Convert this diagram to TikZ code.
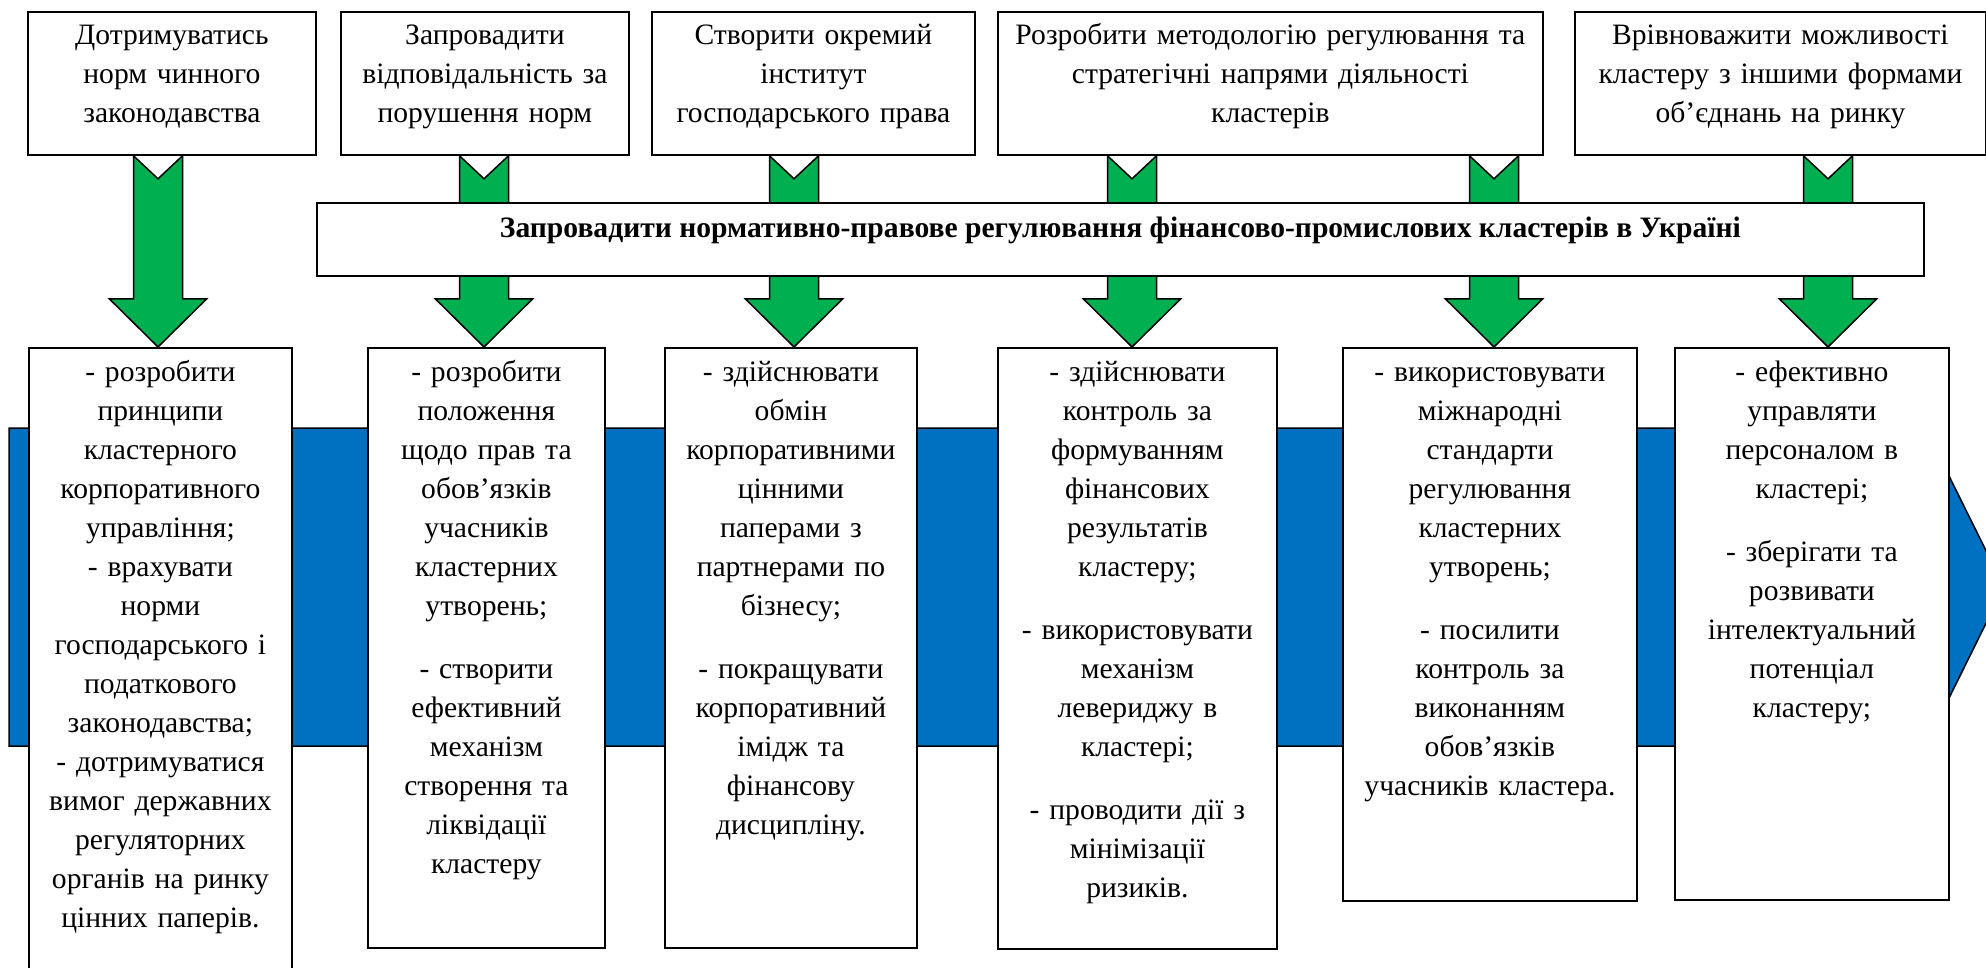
\documentclass[tikz,border=0pt]{standalone}
\usepackage{fontspec}
\setmainfont{Liberation Serif}
\usepackage{tikz}
\definecolor{arrowgreen}{HTML}{00B050}
\definecolor{bandblue}{HTML}{0070C0}

\begin{document}
\begin{tikzpicture}
  [x=1pt, y=-1pt,
   box/.style={draw, fill=white, line width=1.8pt, inner sep=0pt, anchor=north west},
   txt/.style={anchor=base, align=center, inner sep=0pt, font=\fontsize{29.6}{39}\selectfont},
   grarrow/.style={fill=arrowgreen, draw=black, line width=1.5pt},
   band/.style={fill=bandblue, draw=black, line width=1.5pt}]
  \useasboundingbox (0,0) rectangle (1986,968);

  \draw[band] (9,428) -- (1900,428) -- (1900,377) -- (2004,587) -- (1900,797) -- (1900,746) -- (9,746) -- cycle;

  \node[box, minimum width=288pt, minimum height=143pt] (g1) at (27,11) {};
  \node[box, minimum width=288pt, minimum height=143pt] (g2) at (340,11) {};
  \node[box, minimum width=323pt, minimum height=143pt] (g3) at (651,11) {};
  \node[box, minimum width=545pt, minimum height=143pt] (g4) at (997,11) {};
  \node[box, minimum width=411pt, minimum height=143pt] (g5) at (1574,11) {};

  \node[txt, text width=280pt] (g1t) at ([yshift=-34pt]g1.north) {Дотримуватись\\норм чинного\\законодавства};
  \node[txt, text width=280pt] (g2t) at ([yshift=-34pt]g2.north) {Запровадити\\відповідальність за\\порушення норм};
  \node[txt, text width=315pt] (g3t) at ([yshift=-34pt]g3.north) {Створити окремий\\інститут\\господарського права};
  \node[txt, text width=537pt] (g4t) at ([yshift=-34pt]g4.north) {Розробити методологію регулювання та\\стратегічні напрями діяльності\\кластерів};
  \node[txt, text width=403pt] (g5t) at ([yshift=-34pt]g5.north) {Врівноважити можливості\\кластеру з іншими формами\\об’єднань на ринку};

  \node[box, minimum width=263pt, minimum height=700pt] (r1) at (28,347) {};
  \node[box, minimum width=237pt, minimum height=600pt] (r2) at (367,347) {};
  \node[box, minimum width=252pt, minimum height=600pt] (r3) at (664,347) {};
  \node[box, minimum width=279pt, minimum height=601pt] (r4) at (997,347) {};
  \node[box, minimum width=294pt, minimum height=553pt] (r5) at (1342,347) {};
  \node[box, minimum width=274pt, minimum height=552pt] (r6) at (1674,347) {};

  \node[txt, text width=255pt] (r1t) at ([yshift=-34pt]r1.north) {- розробити\\принципи\\кластерного\\корпоративного\\управління;\\- врахувати\\норми\\господарського і\\податкового\\законодавства;\\- дотримуватися\\вимог державних\\регуляторних\\органів на ринку\\цінних паперів.};
  \node[txt, text width=229pt] (r2t) at ([yshift=-34pt]r2.north) {- розробити\\положення\\щодо прав та\\обов’язків\\учасників\\кластерних\\утворень;\\[24pt]- створити\\ефективний\\механізм\\створення та\\ліквідації\\кластеру};
  \node[txt, text width=244pt] (r3t) at ([yshift=-34pt]r3.north) {- здійснювати\\обмін\\корпоративними\\цінними\\паперами з\\партнерами по\\бізнесу;\\[24pt]- покращувати\\корпоративний\\імідж та\\фінансову\\дисципліну.};
  \node[txt, text width=271pt] (r4t) at ([yshift=-34pt]r4.north) {- здійснювати\\контроль за\\формуванням\\фінансових\\результатів\\кластеру;\\[24pt]- використовувати\\механізм\\левериджу в\\кластері;\\[24pt]- проводити дії з\\мінімізації\\ризиків.};
  \node[txt, text width=286pt] (r5t) at ([yshift=-34pt]r5.north) {- використовувати\\міжнародні\\стандарти\\регулювання\\кластерних\\утворень;\\[24pt]- посилити\\контроль за\\виконанням\\обов’язків\\учасників кластера.};
  \node[txt, text width=266pt] (r6t) at ([yshift=-34pt]r6.north) {- ефективно\\управляти\\персоналом в\\кластері;\\[24pt]- зберігати та\\розвивати\\інтелектуальний\\потенціал\\кластеру;};

  \foreach \x/\from/\to in {158/g1/r1,484/g2/r2,794/g3/r3,1132/g4/r4,1494/g4/r5,1828/g5/r6}
  {
    \coordinate (ax) at (\x,0);
    \draw[grarrow] ([xshift=-24.5pt]ax |- \from.south) -- ([yshift=-23pt]ax |- \from.south)
      -- ([xshift=24.5pt]ax |- \from.south) -- ([xshift=24.5pt,yshift=48pt]ax |- \to.north)
      -- ([xshift=48.5pt,yshift=48pt]ax |- \to.north) -- (ax |- \to.north)
      -- ([xshift=-48.5pt,yshift=48pt]ax |- \to.north) -- ([xshift=-24.5pt,yshift=48pt]ax |- \to.north) -- cycle;
  }

  \node[box, minimum width=1607pt, minimum height=73pt, text height=20pt, text depth=23pt,
    font=\fontsize{29.6}{39}\selectfont\bfseries] (b) at (316,202)
    {Запровадити нормативно-правове регулювання фінансово-промислових кластерів в Україні};

\end{tikzpicture}
\end{document}
